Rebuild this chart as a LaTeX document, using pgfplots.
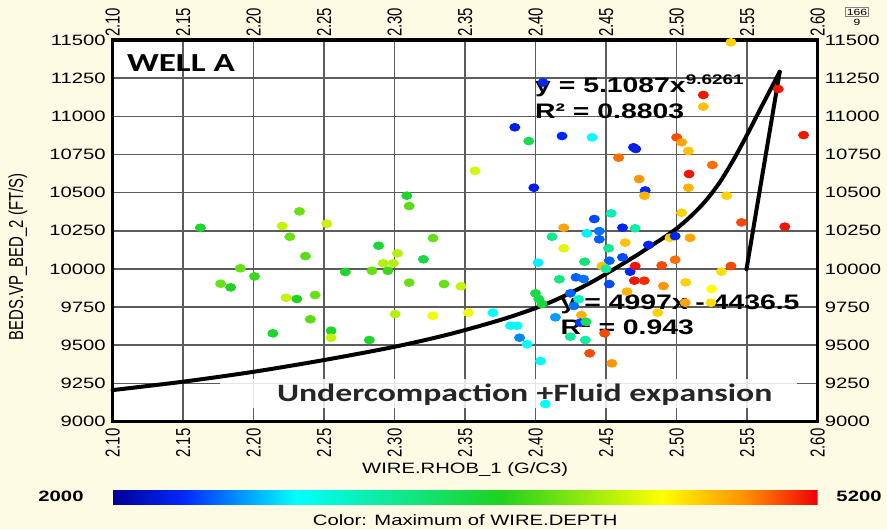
\documentclass[border=0pt]{standalone}
\usepackage{fontspec}
\setmainfont{Liberation Sans}
\newfontfamily\hfont[FakeStretch=1.35]{Liberation Sans}
\newfontfamily\vfont[FakeStretch=0.74]{Liberation Sans}
\newfontfamily\cfont[FakeStretch=1.35]{Carlito}
\usepackage{pgfplots}
\pgfplotsset{compat=1.18}
\usetikzlibrary{calc,decorations.pathmorphing}
\definecolor{bgcream}{HTML}{FDFBE4}
\definecolor{gridgray}{HTML}{5C5C5C}
\pgfdeclarelayer{bg}
\pgfsetlayers{bg,main}

\begin{document}
\begin{tikzpicture}
\begin{axis}[
    name=main,
    at={(0,0)}, anchor=south west,
    scale only axis,
    width=352.5pt, height=190.75pt,
    xmin=2.10, xmax=2.60, ymin=9000, ymax=11500,
    scaled x ticks=false, scaled y ticks=false,
    clip=false,
    axis background/.style={fill=white},
    axis line style={line width=1.6pt},
    major tick length=0pt,
    grid=major,
    major grid style={draw=gridgray, line width=0.75pt},
    xtick={2.10,2.15,2.20,2.25,2.30,2.35,2.40,2.45,2.50,2.55,2.60},
    xticklabels={2.10,2.15,2.20,2.25,2.30,2.35,2.40,2.45,2.50,2.55,2.60},
    ytick={9000,9250,9500,9750,10000,10250,10500,10750,11000,11250,11500},
    yticklabels={9000,9250,9500,9750,10000,10250,10500,10750,11000,11250,11500},
    xticklabel style={font=\vfont\fontsize{10.1}{11}\selectfont, rotate=90, anchor=east},
    yticklabel style={font=\hfont\fontsize{7.5}{9}\selectfont},
    xlabel={WIRE.RHOB\_1 (G/C3)},
    every axis x label/.style={at={(axis description cs:0.5,0)}, yshift=-24.25pt,
        anchor=center, font=\hfont\fontsize{7.5}{9}\selectfont},
    ylabel={BEDS.VP\_BED\_2 (FT/S)},
    every axis y label/.style={at={(axis description cs:0,0.431)}, xshift=-47.35pt,
        rotate=90, anchor=center, font=\vfont\fontsize{10.1}{11}\selectfont},
    colormap={tl}{rgb255(0cm)=(0,0,150) rgb255(10cm)=(0,40,255) rgb255(26cm)=(0,255,255)
        rgb255(55cm)=(30,210,30) rgb255(78cm)=(255,255,0) rgb255(90cm)=(255,140,0)
        rgb255(100cm)=(240,0,0)},
    point meta min=2000, point meta max=5200,
    colorbar horizontal,
    colorbar style={
        at={($(parent axis.south west)+(0pt,-25.75pt)$)}, anchor=north west,
        scale only axis, width=352.5pt, height=7pt,
        xtick=\empty, ytick=\empty,
        axis line style={draw=none},
        major tick length=0pt,
    },
]
% text box behind the annotation
\fill[white, fill opacity=0.85] (axis cs:2.176,9088) rectangle (axis cs:2.585,9279);

\addplot[scatter, only marks, scatter src=explicit, mark=*, mark size=1.95pt,
    mark options={xscale=1.3},
    scatter/use mapped color={draw=mapped color, fill=mapped color}]
    table[x=x, y=y, meta=d] {
x y d
2.1622 10270 3700
2.2325 10377 4000
2.2202 10281 4300
2.2518 10296 4300
2.2256 10211 4000
2.2367 10084 3950
2.1905 10004 4000
2.2006 9951 3850
2.1766 9903 4000
2.1837 9879 3750
2.2230 9811 4300
2.2306 9803 3750
2.2436 9829 4000
2.2402 9670 3950
2.2136 9578 3700
2.2549 9595 3700
2.2549 9549 4300
2.2650 9980 3700
2.3570 10643 4350
2.3086 10480 3700
2.3103 10412 3950
2.3272 10202 4000
2.2886 10152 3650
2.3020 10102 4250
2.3204 10063 3600
2.2919 10037 4250
2.2990 10037 4250
2.2839 9988 4000
2.2952 9988 3850
2.3103 9910 4000
2.3350 9901 4000
2.3470 9886 4300
2.3003 9704 4250
2.3270 9693 4450
2.3522 9713 4450
2.3697 9713 2850
2.2820 9534 3700
2.3987 10532 2250
2.4777 10514 2300
2.4772 10480 4750
2.4536 10364 3150
2.4416 10327 2400
2.4199 10270 4800
2.4363 10233 2800
2.4451 10248 2500
2.4451 10194 2450
2.4116 10211 3300
2.4616 10270 2300
2.4706 10266 3200
2.4199 10135 4400
2.4635 10172 4700
2.4517 10135 3300
2.4800 10157 2300
2.4017 10041 2800
2.4347 10047 3400
2.4522 10054 2450
2.4616 10076 2400
2.4470 10019 4700
2.4499 10000 3200
2.4670 9982 2300
2.4706 10019 5150
2.4168 9932 3350
2.4286 9945 2450
2.4340 9934 2500
2.4522 9901 2400
2.4700 9923 5150
2.4770 9923 5100
2.4647 9851 4750
2.3999 9840 3600
2.4022 9803 3550
2.4045 9770 3650
2.4246 9840 2450
2.4305 9801 3100
2.4270 9757 2500
2.4140 9683 2600
2.4324 9698 4750
2.4317 9648 2350
2.4357 9654 3500
2.3822 9628 2850
2.3869 9628 2850
2.3886 9549 2550
2.3940 9506 2850
2.4246 9556 3250
2.4352 9534 3200
2.4489 9578 5030
2.4034 9396 2900
2.4383 9447 5030
2.4540 9381 4850
2.4069 9115 2850
2.4052 11222 2300
2.3852 10928 2250
2.3951 10838 3550
2.4187 10871 2300
2.4400 10862 2850
2.4694 10797 2250
2.4710 10786 2250
2.4588 10729 4950
2.4734 10589 4850
2.5385 11485 4650
2.5720 11179 5150
2.5189 11140 5150
2.5189 11063 4700
2.5000 10862 5030
2.5035 10830 4800
2.5083 10773 4700
2.5900 10877 5150
2.5253 10681 4950
2.5088 10622 5150
2.5083 10532 4750
2.5354 10480 4650
2.5035 10368 4650
2.5460 10305 5030
2.5767 10277 5150
2.4953 10204 4650
2.4989 10215 2300
2.5095 10204 4800
2.4989 10060 4950
2.4894 10023 5030
2.5385 10019 5030
2.5318 9982 4600
2.4906 9888 4850
2.5064 9912 4650
2.5248 9868 4500
2.5060 9779 4800
2.5243 9779 4600
2.4866 9713 4650
};

% hand-drawn trend curve and line
\addplot[black, line width=2pt, smooth, line cap=round] coordinates {
    (2.100,9206) (2.150,9261) (2.200,9326) (2.250,9403) (2.300,9490)
    (2.340,9575) (2.380,9680) (2.410,9780) (2.440,9915) (2.470,10080)
    (2.480,10140) (2.490,10200) (2.500,10265) (2.510,10345) (2.520,10440)
    (2.530,10560) (2.540,10710) (2.550,10880) (2.560,11060) (2.5731,11292)
};
\addplot[black, line width=2pt, line cap=round] coordinates {
    (2.5731,11292) (2.5495,9997)
};

\node[anchor=base west, inner sep=0, font=\cfont\bfseries\fontsize{13}{15}\selectfont]
    at (axis cs:2.1099,11292) {WELL A};

\node[anchor=base west, inner sep=0, font=\hfont\bfseries\fontsize{10.5}{12}\selectfont]
    at (axis cs:2.3994,11153) {y = 5.1087x\raisebox{4pt}{\hfont\fontsize{7}{8}\selectfont 9.6261}};
\node[anchor=base west, inner sep=0, font=\hfont\bfseries\fontsize{10.5}{12}\selectfont]
    at (axis cs:2.3994,10986) {R² = 0.8803};

\node[anchor=base west, inner sep=0, font=\hfont\bfseries\fontsize{10.5}{12}\selectfont]
    at (axis cs:2.4175,9735) {y = 4997x - 4436.5};
\node[anchor=base west, inner sep=0, font=\hfont\bfseries\fontsize{10.5}{12}\selectfont]
    at (axis cs:2.4175,9573) {R² = 0.943};

\node[anchor=base west, inner sep=0, text=black!85,
    font=\cfont\bfseries\fontsize{12.5}{14}\selectfont] (uc)
    at (axis cs:2.2163,9134) {Undercompaction};
\node[anchor=base west, inner sep=0, text=black!85,
    font=\cfont\bfseries\fontsize{12.5}{14}\selectfont]
    at (uc.base east) {\ +Fluid expansion};
\draw[red!80, line width=0.35pt, decorate,
    decoration={snake, amplitude=0.45pt, segment length=2.2pt}]
    ($(uc.south west)+(0,-0.6pt)$) -- ($(uc.south east)+(0,-0.6pt)$);
\end{axis}

% tick labels on top and right
\begin{axis}[
    at={(0,0)}, anchor=south west,
    scale only axis,
    width=352.5pt, height=190.75pt,
    xmin=2.10, xmax=2.60, ymin=9000, ymax=11500,
    scaled x ticks=false, scaled y ticks=false,
    axis line style={draw=none},
    major tick length=0pt,
    xtick={2.10,2.15,2.20,2.25,2.30,2.35,2.40,2.45,2.50,2.55,2.60},
    xticklabels={2.10,2.15,2.20,2.25,2.30,2.35,2.40,2.45,2.50,2.55,2.60},
    ytick={9000,9250,9500,9750,10000,10250,10500,10750,11000,11250,11500},
    yticklabels={9000,9250,9500,9750,10000,10250,10500,10750,11000,11250,11500},
    xticklabel pos=upper, yticklabel pos=right,
    xticklabel style={font=\vfont\fontsize{10.1}{11}\selectfont, yshift=-2pt, rotate=90, anchor=west},
    yticklabel style={font=\hfont\fontsize{7.5}{9}\selectfont, anchor=west},
]
\end{axis}

\node[font=\hfont\bfseries\fontsize{7.5}{9}\selectfont]
    at ($(main.south west)+(-25.85pt,-37.25pt)$) {2000};
\node[font=\hfont\bfseries\fontsize{7.5}{9}\selectfont]
    at ($(main.south west)+(373.15pt,-37.25pt)$) {5200};
\node[font=\hfont\fontsize{7.5}{9}\selectfont]
    at ($(main.south west)+(176.25pt,-49.25pt)$) {Color: Maximum of WIRE.DEPTH};

\node[font=\hfont\fontsize{4.5}{5}\selectfont, draw=gray, line width=0.3pt, inner sep=0.6pt]
    at ($(main.south west)+(372.15pt,204.75pt)$) {166};
\node[font=\hfont\fontsize{4.5}{5}\selectfont, inner sep=0]
    at ($(main.south west)+(372.15pt,199.5pt)$) {9};

\begin{pgfonlayer}{bg}
\fill[bgcream] ($(main.south west)+(-56.35pt,-53.75pt)$) rectangle ($(main.south west)+(387.15pt,210.75pt)$);
\end{pgfonlayer}
\pgfresetboundingbox
\path[use as bounding box] ($(main.south west)+(-56.35pt,-53.75pt)$) rectangle ($(main.south west)+(387.15pt,210.75pt)$);
\end{tikzpicture}
\end{document}
